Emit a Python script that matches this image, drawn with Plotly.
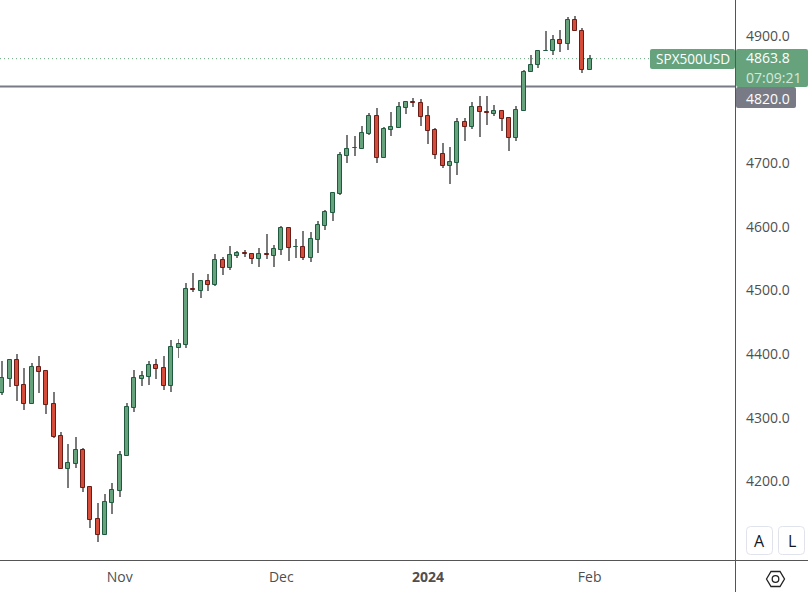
import plotly.graph_objects as go

dates = ("2023-10-10 2023-10-11 2023-10-12 2023-10-13 2023-10-16 2023-10-17 2023-10-18 2023-10-19 2023-10-20 "
         "2023-10-23 2023-10-24 2023-10-25 2023-10-26 2023-10-27 2023-10-30 2023-10-31 "
         "2023-11-01 2023-11-02 2023-11-03 2023-11-06 2023-11-07 2023-11-08 2023-11-09 2023-11-10 "
         "2023-11-13 2023-11-14 2023-11-15 2023-11-16 2023-11-17 2023-11-20 2023-11-21 2023-11-22 2023-11-23 2023-11-24 "
         "2023-11-27 2023-11-28 2023-11-29 2023-11-30 "
         "2023-12-01 2023-12-04 2023-12-05 2023-12-06 2023-12-07 2023-12-08 2023-12-11 2023-12-12 2023-12-13 2023-12-14 2023-12-15 "
         "2023-12-18 2023-12-19 2023-12-20 2023-12-21 2023-12-22 2023-12-26 2023-12-27 2023-12-28 2023-12-29 "
         "2024-01-02 2024-01-03 2024-01-04 2024-01-05 2024-01-08 2024-01-09 2024-01-10 2024-01-11 2024-01-12 "
         "2024-01-15 2024-01-16 2024-01-17 2024-01-18 2024-01-19 2024-01-22 2024-01-23 2024-01-24 2024-01-25 2024-01-26 "
         "2024-01-29 2024-01-30 2024-01-31 2024-02-01").split()

opens = [4338.4, 4361.4, 4390.2, 4350.9, 4322.1, 4379.2, 4372.9, 4321.1, 4270.9, 4220.1, 4228.0, 4248.9, 4190.8, 4140.6, 4116.5, 4166.7,
         4185.6, 4240.5, 4315.9, 4361.4, 4364.5, 4382.3, 4377.6, 4350.4, 4410.1, 4414.8, 4501.7, 4499.6, 4514.2, 4509.0, 4547.2, 4535.7,
         4554.5, 4558.2, 4556.6, 4549.8, 4556.6, 4554.5, 4563.9, 4597.4, 4567.6, 4567.6, 4551.4, 4579.6, 4601.6, 4622.0, 4651.9, 4711.5,
         4723.0, 4722.5, 4746.0, 4773.3, 4708.4, 4752.3, 4755.5, 4786.9, 4795.2, 4793.7, 4773.3, 4751.3, 4713.6, 4695.8, 4700.5, 4763.8,
         4757.0, 4787.4, 4779.5, 4777.4, 4781.1, 4770.1, 4739.8, 4782.4, 4842.3, 4853.3, 4875.3, 4875.3, 4892.6, 4886.3, 4924.0, 4906.7, 4845.5]
closes = [4361.9, 4390.2, 4350.4, 4322.1, 4379.2, 4372.4, 4320.6, 4270.3, 4220.1, 4228.5, 4248.9, 4190.3, 4140.0, 4116.5, 4167.2, 4186.1,
          4241.0, 4316.4, 4361.9, 4365.1, 4382.3, 4377.1, 4350.4, 4410.6, 4415.3, 4501.7, 4500.7, 4514.2, 4509.0, 4547.2, 4535.7, 4555.0,
          4558.2, 4557.7, 4549.8, 4556.6, 4556.1, 4564.5, 4597.4, 4567.1, 4568.1, 4551.4, 4580.2, 4602.1, 4622.5, 4652.4, 4712.0, 4721.4,
          4723.5, 4746.6, 4773.3, 4708.4, 4752.9, 4756.0, 4787.4, 4795.2, 4794.7, 4772.7, 4750.8, 4713.1, 4695.8, 4701.0, 4763.8, 4757.0,
          4787.4, 4779.5, 4779.0, 4781.1, 4769.6, 4739.8, 4782.7, 4842.3, 4853.3, 4875.3, 4875.8, 4892.6, 4886.3, 4924.0, 4906.7, 4845.5, 4863.8]
highs = [4389.1, 4390.2, 4400.1, 4378.1, 4386.0, 4397.0, 4372.9, 4340.5, 4277.1, 4258.8, 4269.3, 4252.0, 4190.8, 4165.7, 4180.3, 4197.1,
         4247.3, 4322.7, 4374.5, 4372.9, 4388.6, 4392.3, 4397.0, 4422.1, 4423.1, 4511.1, 4526.8, 4516.3, 4525.2, 4556.6, 4551.9, 4569.2,
         4561.8, 4562.9, 4558.2, 4566.0, 4588.5, 4570.7, 4600.6, 4597.4, 4580.2, 4592.7, 4591.1, 4608.4, 4625.7, 4652.4, 4716.7, 4743.4,
         4741.9, 4757.6, 4778.0, 4785.8, 4756.0, 4779.5, 4795.2, 4796.8, 4801.5, 4800.0, 4789.0, 4754.4, 4730.9, 4724.6, 4770.6, 4770.1,
         4795.2, 4804.7, 4804.7, 4790.5, 4782.7, 4771.7, 4789.0, 4845.5, 4869.0, 4875.3, 4906.7, 4900.4, 4908.3, 4928.7, 4930.8, 4911.4, 4869.0]
lows = [4335.8, 4348.8, 4326.9, 4312.7, 4322.1, 4339.4, 4306.4, 4268.8, 4220.1, 4190.3, 4221.7, 4184.0, 4127.5, 4105.5, 4116.5, 4149.5,
        4176.1, 4240.5, 4309.6, 4350.4, 4352.0, 4361.4, 4343.6, 4341.0, 4394.4, 4410.1, 4498.0, 4488.6, 4499.6, 4507.4, 4524.7, 4532.5,
        4551.4, 4552.9, 4541.9, 4537.2, 4549.8, 4537.2, 4556.1, 4546.7, 4551.4, 4548.2, 4545.1, 4559.2, 4595.3, 4609.5, 4650.3, 4700.5,
        4711.5, 4722.5, 4744.5, 4700.5, 4708.4, 4742.9, 4755.5, 4777.4, 4788.4, 4758.6, 4730.3, 4706.8, 4692.7, 4667.5, 4681.7, 4735.1,
        4753.9, 4741.3, 4760.2, 4774.3, 4750.8, 4719.4, 4735.1, 4782.2, 4842.3, 4848.6, 4875.3, 4869.0, 4873.7, 4876.9, 4906.7, 4840.8, 4845.5]

price_ticks = [4200, 4300, 4400, 4500, 4600, 4700, 4900]
time_tick_dates = ["2023-11-01", "2023-12-01", "2024-01-02", "2024-02-01"]
time_tick_labels = ["Nov", "Dec", "<b>2024</b>", "Feb"]
last_price = 4863.8
level_price = 4820.0
symbol = "SPX500USD"
countdown = "07:09:21"

GREEN, GREEN_EDGE = "#66a37d", "#1f5a3f"
RED, RED_EDGE = "#d64c3a", "#6a1c16"
WICK, GREY, TEXT = "#7a7a7a", "#787b86", "#4f4f4f"
FONT = "Open Sans"
PW, PH = 735, 560   # plot area in pixels


def px(x):
    return x / PW


def py(y):
    return 1 - y / PH


def rrect(x0, y0, x1, y1, r):
    """Rounded rectangle path in paper coordinates, from pixel corners."""
    pts = [("M", x0 + r, y0), ("L", x1 - r, y0), ("Q", x1, y0, x1, y0 + r), ("L", x1, y1 - r),
           ("Q", x1, y1, x1 - r, y1), ("L", x0 + r, y1), ("Q", x0, y1, x0, y1 - r), ("L", x0, y0 + r),
           ("Q", x0, y0, x0 + r, y0)]
    out = ""
    for p in pts:
        vals = p[1:]
        out += p[0] + " ".join(f"{px(vals[i]):.5f},{py(vals[i + 1]):.5f}" for i in range(0, len(vals), 2)) + " "
    return out + "Z"


up = [i for i in range(len(dates)) if closes[i] >= opens[i]]
dn = [i for i in range(len(dates)) if closes[i] < opens[i]]

fig = go.Figure()
fig.add_trace(go.Bar(x=dates, y=[h - l for h, l in zip(highs, lows)], base=lows, width=0.136,
                     marker=dict(color=WICK, line=dict(width=0)), name="range"))
for idx, fill, edge, nm in [(up, GREEN, GREEN_EDGE, "up"), (dn, RED, RED_EDGE, "down")]:
    fig.add_trace(go.Bar(x=[dates[i] for i in idx],
                         y=[abs(closes[i] - opens[i]) for i in idx],
                         base=[min(opens[i], closes[i]) for i in idx],
                         width=0.545, name=nm,
                         marker=dict(color=fill, line=dict(color=edge, width=1))))

shapes = [
    dict(type="line", layer="below", xref="paper", x0=0, x1=1, yref="y", y0=last_price, y1=last_price,
         line=dict(color=GREEN, width=1, dash="1px,3px")),
    dict(type="line", layer="below", xref="paper", x0=0, x1=1, yref="y", y0=level_price, y1=level_price,
         line=dict(color=GREY, width=2)),
    # axis frame
    dict(type="line", xref="paper", yref="paper", x0=px(735.5), x1=px(735.5), y0=py(0), y1=py(592),
         line=dict(color="#555555", width=1)),
    dict(type="line", xref="paper", yref="paper", x0=0, x1=px(808), y0=py(560.5), y1=py(560.5),
         line=dict(color="#555555", width=1)),
    # price labels
    dict(type="path", xref="paper", yref="paper", path=rrect(650, 49, 735, 69, 2), fillcolor=GREEN, line=dict(width=0)),
    dict(type="path", xref="paper", yref="paper", path=rrect(736, 49, 808, 87, 2), fillcolor=GREEN, line=dict(width=0)),
    dict(type="path", xref="paper", yref="paper", path=rrect(736, 87, 796, 108, 2), fillcolor=GREY, line=dict(width=0)),
    # A / L buttons
    dict(type="path", xref="paper", yref="paper", path=rrect(746.5, 526.5, 772.5, 554.5, 4),
         fillcolor="white", line=dict(color="#e0e3eb", width=1)),
    dict(type="path", xref="paper", yref="paper", path=rrect(778.5, 526.5, 804.5, 554.5, 4),
         fillcolor="white", line=dict(color="#e0e3eb", width=1)),
    # settings hexagon
    dict(type="path", xref="paper", yref="paper",
         path=f"M{px(766.5)},{py(579)} L{px(771)},{py(571.5)} L{px(780)},{py(571.5)} L{px(784.5)},{py(579)} "
              f"L{px(780)},{py(586.5)} L{px(771)},{py(586.5)} Z",
         line=dict(color="#222222", width=1.3)),
    dict(type="circle", xref="paper", yref="paper", x0=px(772.2), x1=px(778.8), y0=py(582.3), y1=py(575.7),
         line=dict(color="#222222", width=1.3)),
]


def label(x, y, text, color, size=14, anchor="left"):
    return dict(xref="paper", yref="paper", x=px(x), y=py(y), text=text, showarrow=False,
                xanchor=anchor, yanchor="middle", font=dict(family=FONT, size=size, color=color),
                borderpad=0, align=anchor)


annotations = [
    label(655, 59, symbol, "white", 13.6),
    label(745, 58, f"{last_price:.1f}", "white"),
    label(745, 77.5, countdown, "#d5e8dc"),
    label(745, 98, f"{level_price:.1f}", "white"),
    label(759.5, 541, "A", "#131722", 16, "center"),
    label(791.5, 541, "L", "#131722", 16, "center"),
]

fig.update_layout(
    width=808, height=592, autosize=False,
    margin=dict(l=0, r=73, t=0, b=32),
    paper_bgcolor="white", plot_bgcolor="white",
    barmode="overlay", showlegend=False, bargap=0,
    shapes=shapes, annotations=annotations,
    font=dict(family=FONT, size=14, color=TEXT),
    xaxis=dict(type="category", range=[-0.313, 99.8], showgrid=False, zeroline=False, showline=False,
               tickmode="array", tickvals=time_tick_dates, ticktext=time_tick_labels, ticks="",
               tickangle=0, ticklabelstandoff=7, categoryorder="trace", fixedrange=True),
    yaxis=dict(side="right", range=[4076.8, 4955.9], showgrid=False, zeroline=False, showline=False,
               tickmode="array", tickvals=price_ticks, tickformat=".1f", ticks="",
               ticklabelstandoff=10, fixedrange=True),
)
fig.write_html("out.html", config={"displayModeBar": False},
               post_script="document.body.style.margin='0';document.body.style.overflow='hidden';")
